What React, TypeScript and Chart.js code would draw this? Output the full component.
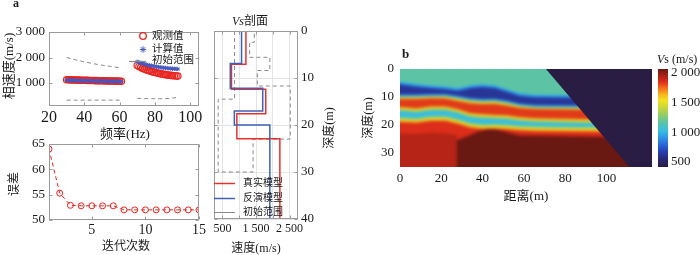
import React, { useEffect, useRef } from "react";
import { Chart, registerables } from "chart.js";

Chart.register(...registerables);

const FONT = "'Liberation Serif', 'Noto Sans CJK SC', serif";
const TXT = "#1a1a1a";

// ---------------- Panel a (top): dispersion curves ----------------
const dispFreq1 = [30, 31, 32, 33, 34, 35, 36, 37, 38, 39, 40, 41, 42, 43, 44, 45, 46, 47, 48, 49, 50, 51, 52, 53, 54, 55, 56, 57, 58, 59, 60, 61];
const dispObs1 = [1130, 1127, 1125, 1122, 1120, 1118, 1116, 1113, 1111, 1109, 1107, 1105, 1103, 1101, 1099, 1097, 1095, 1093, 1092, 1090, 1088, 1086, 1085, 1083, 1081, 1080, 1078, 1076, 1075, 1073, 1072, 1070];
const dispCalc1 = [1112, 1110, 1108, 1106, 1104, 1102, 1100, 1098, 1096, 1094, 1092, 1090, 1089, 1087, 1085, 1084, 1082, 1080, 1079, 1077, 1076, 1074, 1073, 1071, 1070, 1068, 1067, 1066, 1064, 1063, 1062, 1060];
const dispFreq2 = [70, 71, 72, 73, 74, 75, 76, 77, 78, 79, 80, 81, 82, 83, 84, 85, 86, 87, 88, 89, 90, 91, 92, 93];
const dispObs2 = [1690, 1650, 1615, 1582, 1552, 1525, 1500, 1477, 1455, 1435, 1416, 1399, 1383, 1368, 1354, 1341, 1329, 1318, 1308, 1299, 1291, 1284, 1278, 1272];
const dispCalc2 = [1835, 1810, 1787, 1765, 1745, 1726, 1709, 1693, 1678, 1664, 1651, 1639, 1628, 1617, 1607, 1598, 1590, 1582, 1575, 1568, 1562, 1557, 1552, 1548];
const rangeFreq1 = [30, 35, 40, 45, 50, 55, 60];
const rangeUpper1 = [2000, 1910, 1830, 1760, 1700, 1650, 1600];
const rangeLower1 = [330, 330, 330, 330, 330, 330, 330];
const rangeFreq2 = [70, 75, 80, 85, 88, 92];
const rangeLower2 = [400, 390, 385, 385, 395, 430];
const dispXTicks = [20, 40, 60, 80, 100];
const dispYTicks = [1000, 2000, 3000];

// ---------------- Panel a (bottom): misfit vs iteration ----------------
const iterations = [1, 2, 3, 4, 5, 6, 7, 8, 9, 10, 11, 12, 13, 14, 15];
const misfit = [64.0, 55.3, 52.9, 52.8, 52.8, 52.8, 52.8, 52.0, 52.0, 52.0, 52.0, 52.0, 52.0, 52.0, 52.0];
const iterTicks = [5, 10, 15];
const misfitTicks = [50, 55, 60, 65];

// ---------------- Panel a (right): Vs profile ----------------
const trueVs = [1200, 770, 1790, 930, 2210];
const trueBottoms = [7.1, 12.4, 17.6, 22.9, 40];
const invVs = [1070, 735, 1700, 855, 1912];
const invBottoms = [6.9, 12.2, 17.0, 20.0, 40];
const initRangeVs = [862, 862, 374, 374, 1412, 1412, 2520, 2520, 1540, 1540, 1912, 1912, 1310, 1310, 1450, 1450];
const initRangeDepth = [0, 14.5, 14.5, 30, 30, 23, 23, 11.7, 11.7, 8.4, 8.4, 5.6, 5.6, 2.4, 2.4, 0];
const vsTicks = [500, 1000, 1500, 2000, 2500];
const vsLabelled = [500, 1500, 2500];
const depthTicks = [0, 10, 20, 30, 40];

// ---------------- Panel b: Vs section ----------------
const heatX = [0, 8, 15, 22, 28, 34, 40, 46, 52, 58, 65, 75, 90, 105, 122];
const blueTopDepth = [5.5, 6.3, 6.8, 7.2, 7.8, 6.8, 6.4, 6.8, 8.2, 9.6, 10.1, 10.2, 10.3, 10.4, 10.5];
const blueBaseDepth = [9.0, 9.0, 8.8, 8.8, 9.5, 10.3, 10.6, 10.5, 11.2, 12.2, 12.7, 12.8, 12.9, 13.0, 13.0];
const redTopDepth = [10.8, 10.8, 10.5, 10.6, 11.5, 12.3, 12.6, 12.5, 13.2, 14.0, 14.4, 14.5, 14.6, 14.7, 14.7];
const redBaseDepth = [14.0, 14.5, 13.8, 13.8, 14.8, 16.2, 16.6, 16.8, 17.0, 17.6, 18.0, 18.2, 18.4, 18.5, 18.5];
const cyanBaseDepth = [18.0, 18.3, 17.6, 17.6, 18.6, 20.0, 20.5, 20.4, 20.6, 21.0, 21.2, 21.3, 21.4, 21.5, 21.5];
const leftBaseX = [0, 8, 15, 22, 27.5];
const leftBaseDepth = [23.0, 23.2, 22.8, 23.0, 23.5];
const rightBaseX = [27.5, 30, 34, 38, 42, 46, 50, 54, 58, 65, 75, 90, 105, 122];
const rightBaseDepth = [25.5, 25.0, 23.8, 22.5, 21.8, 21.8, 22.4, 23.3, 23.9, 24.0, 24.1, 24.3, 24.5, 24.5];
const maskX = [69.5, 112.2];
const maskDepth = [-1, 36];
// layer velocities (m/s)
const vsTopLayer = 1170;
const vsMasked = 430;
const vsLeftBase = 1930;
const vsRightBase = 2065;
// transitions across each interface: [depth offset (m), Vs below]
const blueTopSteps = [[-1.0, 1000], [-0.5, 850], [0, 690], [0.4, 620]];
const blueBaseSteps = [[0, 800], [0.4, 1000], [0.8, 1250], [1.2, 1480]];
const redTopSteps = [[-0.4, 1660], [0, 1830]];
const redBaseSteps = [[-0.5, 1650], [0, 1460], [0.5, 1250], [1.0, 1030]];
const cyanBaseSteps = [[-0.8, 1260], [-0.2, 1500], [0.4, 1680], [1.0, 1850]];
const heatXTicks = [0, 20, 40, 60, 80, 100];
const heatYTicks = [0, 10, 20, 30];

// colour scale
const cmapVs = [420, 560, 680, 800, 920, 1030, 1150, 1280, 1420, 1540, 1640, 1750, 1850, 1960, 2065];
const cmapHex = ["#2a1c40", "#292a7a", "#2740b0", "#2a6ad8", "#2f9ae6", "#38bde0", "#55c2b0", "#8ccb6a", "#c8d83a", "#f2e21e", "#f8b41c", "#f26a1c", "#dc2e1a", "#a82016", "#6a1812"];
const cbarTicks = [500, 1000, 1500, 2000];
const cbarMin = 417;
const cbarMax = 2067;

// ---------------- helpers ----------------
const fmt = (v: number) => (v >= 1000 ? `${Math.floor(v / 1000)} ${String(v % 1000).padStart(3, "0")}` : String(v));
const pts = (xs: number[], ys: number[]) => xs.map((x, i) => ({ x, y: ys[i] }));
const stepProfile = (vs: number[], bottoms: number[]) => {
  const out: { x: number; y: number }[] = [];
  let top = 0;
  vs.forEach((v, i) => {
    out.push({ x: v, y: top }, { x: v, y: bottoms[i] });
    top = bottoms[i];
  });
  return out;
};
const hexRgb = (h: string) => [parseInt(h.slice(1, 3), 16), parseInt(h.slice(3, 5), 16), parseInt(h.slice(5, 7), 16)];
const vsColor = (v: number) => {
  if (v <= cmapVs[0]) return cmapHex[0];
  if (v >= cmapVs[cmapVs.length - 1]) return cmapHex[cmapHex.length - 1];
  let i = 0;
  while (v > cmapVs[i + 1]) i++;
  const t = (v - cmapVs[i]) / (cmapVs[i + 1] - cmapVs[i]);
  const a = hexRgb(cmapHex[i]);
  const b = hexRgb(cmapHex[i + 1]);
  const c = a.map((q, k) => Math.round(q + (b[k] - q) * t));
  return `rgb(${c[0]},${c[1]},${c[2]})`;
};

function axis(o: {
  min: number; max: number; ticks: number[]; size: number; fontSize: number; pad?: number;
  pos?: string; reverse?: boolean; grid?: boolean; label?: (v: number) => string; display?: boolean;
}) {
  return {
    type: "linear",
    position: o.pos,
    min: o.min,
    max: o.max,
    reverse: !!o.reverse,
    display: o.display ?? true,
    afterBuildTicks: (s: any) => { s.ticks = o.ticks.map((value) => ({ value })); },
    afterFit: (s: any) => { if (s.isHorizontal()) s.height = o.size; else s.width = o.size; },
    grid: o.grid ? { display: true, color: "#e4e4e4", drawTicks: false, lineWidth: 1 } : { display: false, drawTicks: false },
    border: { display: false },
    ticks: {
      color: TXT, font: { family: FONT, size: o.fontSize }, padding: o.pad ?? 3,
      autoSkip: false, maxRotation: 0, minRotation: 0,
      callback: (v: any) => (o.label ? o.label(+v) : fmt(+v)),
    },
  };
}

type Txt = { s: string; x: number; y: number; size: number; align?: CanvasTextAlign; rot?: boolean; bold?: boolean; italic?: boolean };
function drawTexts(ctx: CanvasRenderingContext2D, items: Txt[]) {
  for (const t of items) {
    ctx.save();
    ctx.fillStyle = TXT;
    ctx.font = `${t.italic ? "italic " : ""}${t.bold ? "bold " : ""}${t.size}px ${FONT}`;
    ctx.textAlign = t.align ?? "center";
    ctx.textBaseline = "middle";
    ctx.translate(t.x, t.y);
    if (t.rot) ctx.rotate(-Math.PI / 2);
    ctx.fillText(t.s, 0, 0);
    ctx.restore();
  }
}
function drawFrame(chart: any, color: string, tick = 3, sides = { x: true, y: true }) {
  const { ctx, chartArea: a, scales } = chart;
  ctx.save();
  ctx.strokeStyle = color;
  ctx.lineWidth = 1;
  const l = Math.round(a.left) + 0.5, t = Math.round(a.top) + 0.5, r = Math.round(a.right) - 0.5, b = Math.round(a.bottom) - 0.5;
  ctx.strokeRect(l, t, r - l, b - t);
  ctx.beginPath();
  for (const id of Object.keys(scales)) {
    const s = scales[id];
    if (!s.options.display) continue;
    for (const tk of s.ticks) {
      const p = Math.round(s.getPixelForValue(tk.value)) + 0.5;
      if (s.isHorizontal() && sides.x) {
        ctx.moveTo(p, b); ctx.lineTo(p, b - tick); ctx.moveTo(p, t); ctx.lineTo(p, t + tick);
      } else if (!s.isHorizontal() && sides.y) {
        ctx.moveTo(l, p); ctx.lineTo(l + tick, p); ctx.moveTo(r, p); ctx.lineTo(r - tick, p);
      }
    }
  }
  ctx.stroke();
  ctx.restore();
}
function drawStar(ctx: CanvasRenderingContext2D, x: number, y: number, r: number) {
  ctx.beginPath();
  for (let k = 0; k < 4; k++) {
    const ang = (k * Math.PI) / 4;
    ctx.moveTo(x - r * Math.cos(ang), y - r * Math.sin(ang));
    ctx.lineTo(x + r * Math.cos(ang), y + r * Math.sin(ang));
  }
  ctx.stroke();
}

const baseOpts = (padding: any, scales: any, plugins: any = {}) => ({
  responsive: false,
  animation: false as const,
  events: [] as any[],
  layout: { padding },
  plugins: { legend: { display: false }, tooltip: { enabled: false }, ...plugins },
  scales,
});

const RED = "#e8231e";
const BLUE = "#4557c0";
const GRAY = "#8a8a8a";
const FRAME = "#9a9a9a";

// ---------------- chart builders ----------------
function makeDispersion(c: HTMLCanvasElement) {
  return new Chart(c, {
    type: "scatter",
    data: {
      datasets: [
        { label: "计算值", data: pts(dispFreq1, dispCalc1), pointStyle: "star", pointRadius: 2.2, pointBorderColor: BLUE, pointBorderWidth: 1, showLine: false },
        { label: "计算值", data: pts(dispFreq2, dispCalc2), pointStyle: "star", pointRadius: 2.2, pointBorderColor: BLUE, pointBorderWidth: 1, showLine: false },
        { label: "观测值", data: pts(dispFreq1, dispObs1), pointStyle: "circle", pointRadius: 3.2, pointBorderColor: RED, pointBackgroundColor: "rgba(255,255,255,0)", pointBorderWidth: 1.2, showLine: false },
        { label: "观测值", data: pts(dispFreq2, dispObs2), pointStyle: "circle", pointRadius: 3.2, pointBorderColor: RED, pointBackgroundColor: "rgba(255,255,255,0)", pointBorderWidth: 1.2, showLine: false },
        { label: "初始范围", data: pts(rangeFreq1, rangeUpper1), showLine: true, borderColor: GRAY, borderWidth: 1, borderDash: [4, 3], pointRadius: 0 },
        { label: "初始范围", data: pts(rangeFreq1, rangeLower1), showLine: true, borderColor: GRAY, borderWidth: 1, borderDash: [4, 3], pointRadius: 0 },
        { label: "初始范围", data: pts(rangeFreq2, rangeLower2), showLine: true, borderColor: GRAY, borderWidth: 1, borderDash: [4, 3], pointRadius: 0 },
      ] as any,
    },
    options: baseOpts({ left: 0, top: 32, right: 501, bottom: 119 }, {
      x: axis({ min: 20, max: 105, ticks: dispXTicks, size: 30, fontSize: 16, pad: 2 }),
      y: axis({ min: 100, max: 3000, ticks: dispYTicks, size: 49, fontSize: 13, pad: 4 }),
    }) as any,
    plugins: [{
      id: "decor",
      afterDraw(chart: any) {
        const ctx = chart.ctx as CanvasRenderingContext2D;
        drawFrame(chart, FRAME);
        ctx.save();
        ctx.strokeStyle = RED; ctx.lineWidth = 1.3;
        ctx.beginPath(); ctx.arc(143, 36, 3.3, 0, Math.PI * 2); ctx.stroke();
        ctx.strokeStyle = BLUE; ctx.lineWidth = 1;
        drawStar(ctx, 143, 49.5, 3.2);
        ctx.strokeStyle = GRAY; ctx.lineWidth = 1.2;
        ctx.beginPath(); ctx.moveTo(129, 61.5); ctx.lineTo(146, 61.5); ctx.stroke();
        ctx.restore();
        drawTexts(ctx, [
          { s: "观测值", x: 152, y: 36, size: 10.5, align: "left" },
          { s: "计算值", x: 152, y: 49.5, size: 10.5, align: "left" },
          { s: "初始范围", x: 152, y: 60, size: 10.5, align: "left" },
          { s: "相速度(m/s)", x: 10, y: 66, size: 13, rot: true },
          { s: "频率(Hz)", x: 125, y: 135, size: 13 },
          { s: "a", x: 13, y: 4, size: 12, bold: true, align: "left" },
        ]);
      },
    }],
  });
}

function makeMisfit(c: HTMLCanvasElement) {
  return new Chart(c, {
    type: "scatter",
    data: {
      datasets: [{
        data: pts(iterations, misfit), showLine: true, borderColor: RED, borderWidth: 1, borderDash: [4, 3],
        pointStyle: "circle", pointRadius: 3, pointBorderColor: RED, pointBackgroundColor: "rgba(255,255,255,0)", pointBorderWidth: 1,
      }] as any,
    },
    options: baseOpts({ left: 19, top: 144, right: 501, bottom: 13 }, {
      x: axis({ min: 1, max: 15, ticks: iterTicks, size: 22, fontSize: 14, pad: 2 }),
      y: axis({ min: 50, max: 65, ticks: misfitTicks, size: 30, fontSize: 13, pad: 4 }),
    }) as any,
    plugins: [{
      id: "decor",
      afterDraw(chart: any) {
        drawFrame(chart, FRAME);
        drawTexts(chart.ctx, [
          { s: "误差", x: 15, y: 184, size: 12, rot: true },
          { s: "迭代次数", x: 126, y: 247, size: 12 },
        ]);
      },
    }],
  });
}

function makeProfile(c: HTMLCanvasElement) {
  return new Chart(c, {
    type: "scatter",
    data: {
      datasets: [
        { label: "反演模型", data: stepProfile(invVs, invBottoms), showLine: true, borderColor: "#3c62b8", borderWidth: 1.5, pointRadius: 0 },
        { label: "真实模型", data: stepProfile(trueVs, trueBottoms), showLine: true, borderColor: "#e8302c", borderWidth: 1.5, pointRadius: 0 },
        { label: "初始范围", data: pts(initRangeVs, initRangeDepth), showLine: true, borderColor: GRAY, borderWidth: 1, borderDash: [4, 3], pointRadius: 0 },
      ] as any,
    },
    options: baseOpts({ left: 214, top: 31, right: 377, bottom: 18 }, {
      x: axis({ min: 250, max: 2750, ticks: vsTicks, size: 18, fontSize: 12, pad: 3, grid: true, label: (v) => (vsLabelled.includes(v) ? fmt(v) : "") }),
      y: axis({ min: 0, max: 40, ticks: depthTicks, size: 25, fontSize: 13, pad: 3, pos: "right", reverse: true, grid: true }),
    }) as any,
    plugins: [{
      id: "decor",
      afterDraw(chart: any) {
        const ctx = chart.ctx as CanvasRenderingContext2D;
        drawFrame(chart, FRAME);
        const rows: [string, string, number][] = [["#e8302c", "真实模型", 183], ["#3c62b8", "反演模型", 198], [GRAY, "初始范围", 212]];
        ctx.save();
        for (const [col, , y] of rows) {
          ctx.strokeStyle = col; ctx.lineWidth = col === GRAY ? 1 : 1.5;
          ctx.beginPath(); ctx.moveTo(214, y + 0.5); ctx.lineTo(235, y + 0.5); ctx.stroke();
        }
        // title: italic "Vs" + "剖面"
        ctx.fillStyle = TXT; ctx.textBaseline = "middle";
        ctx.font = `italic 12px ${FONT}`;
        const w1 = ctx.measureText("Vs").width;
        ctx.font = `12px ${FONT}`;
        const w2 = ctx.measureText("剖面").width;
        const x0 = 250 - (w1 + w2) / 2;
        ctx.font = `italic 12px ${FONT}`; ctx.textAlign = "left"; ctx.fillText("Vs", x0, 22);
        ctx.font = `12px ${FONT}`; ctx.fillText("剖面", x0 + w1, 22);
        ctx.restore();
        drawTexts(ctx, [
          ...rows.map(([, s, y]) => ({ s, x: 243, y, size: 10, align: "left" as CanvasTextAlign })),
          { s: "深度(m)", x: 330, y: 128, size: 12, rot: true },
          { s: "速度(m/s)", x: 256, y: 249, size: 12 },
        ]);
      },
    }],
  });
}

function makeSection(c: HTMLCanvasElement) {
  return new Chart(c, {
    type: "scatter",
    data: { datasets: [{ data: [] }] as any },
    options: baseOpts({ left: 370, top: 69, right: 48, bottom: 68 }, {
      x: axis({ min: 0, max: 122, ticks: heatXTicks, size: 20, fontSize: 13, pad: 4 }),
      y: axis({ min: 0, max: 35, ticks: heatYTicks, size: 30, fontSize: 13, pad: 6, reverse: true }),
    }) as any,
    plugins: [{
      id: "section",
      beforeDatasetsDraw(chart: any) {
        const { ctx, chartArea: a, scales } = chart;
        const sx = scales.x, sy = scales.y;
        const X = (v: number) => sx.getPixelForValue(v);
        const Y = (v: number) => sy.getPixelForValue(v);
        const off = document.createElement("canvas");
        off.width = chart.width; off.height = chart.height;
        const o = off.getContext("2d")!;
        o.fillStyle = vsColor(vsTopLayer);
        o.fillRect(a.left - 20, a.top - 20, a.width + 40, a.height + 40);
        const bottom = a.bottom + 20;
        const fillBelow = (xs: number[], ds: number[], dOff: number, vs: number, extL: boolean, extR: boolean) => {
          const p = xs.map((x, i) => [X(x), Y(ds[i] + dOff)]);
          if (extL) p.unshift([p[0][0] - 20, p[0][1]]);
          if (extR) p.push([p[p.length - 1][0] + 20, p[p.length - 1][1]]);
          o.fillStyle = vsColor(vs);
          o.beginPath();
          o.moveTo(p[0][0], p[0][1]);
          for (const q of p.slice(1)) o.lineTo(q[0], q[1]);
          o.lineTo(p[p.length - 1][0], bottom);
          o.lineTo(p[0][0], bottom);
          o.closePath();
          o.fill();
        };
        const iface = (ds: number[], steps: number[][]) => steps.forEach(([d, v]) => fillBelow(heatX, ds, d, v, true, true));
        iface(blueTopDepth, blueTopSteps);
        iface(blueBaseDepth, blueBaseSteps);
        iface(redTopDepth, redTopSteps);
        iface(redBaseDepth, redBaseSteps);
        iface(cyanBaseDepth, cyanBaseSteps);
        fillBelow(leftBaseX, leftBaseDepth, 0, vsLeftBase, true, false);
        fillBelow(rightBaseX, rightBaseDepth, -0.5, 1960, false, true);
        fillBelow(rightBaseX, rightBaseDepth, 0, vsRightBase, false, true);
        ctx.save();
        ctx.beginPath(); ctx.rect(a.left, a.top, a.width, a.height); ctx.clip();
        ctx.filter = "blur(1.4px)";
        ctx.drawImage(off, 0, 0);
        ctx.filter = "none";
        ctx.fillStyle = vsColor(vsMasked);
        ctx.beginPath();
        ctx.moveTo(X(maskX[0]), Y(maskDepth[0]));
        ctx.lineTo(X(maskX[1]), Y(maskDepth[1]));
        ctx.lineTo(a.right + 5, Y(maskDepth[1]));
        ctx.lineTo(a.right + 5, Y(maskDepth[0]));
        ctx.closePath();
        ctx.fill();
        ctx.restore();
      },
      afterDraw(chart: any) {
        drawTexts(chart.ctx, [
          { s: "b", x: 402, y: 55, size: 13, bold: true, align: "left" },
          { s: "深度(m)", x: 369, y: 118, size: 12, rot: true },
          { s: "距离(m)", x: 526, y: 197, size: 13 },
        ]);
      },
    }],
  });
}

function makeColorbar(c: HTMLCanvasElement) {
  return new Chart(c, {
    type: "scatter",
    data: { datasets: [{ data: [] }] as any },
    options: baseOpts({ left: 658, top: 69, right: 0, bottom: 88 }, {
      x: { type: "linear", display: false, min: 0, max: 1 },
      y: axis({ min: cbarMin, max: cbarMax, ticks: cbarTicks, size: 32, fontSize: 13, pad: 3, pos: "right" }),
    }) as any,
    plugins: [{
      id: "cbar",
      beforeDatasetsDraw(chart: any) {
        const { ctx, chartArea: a, scales } = chart;
        const sy = scales.y;
        const y0 = sy.getPixelForValue(cbarMin), y1 = sy.getPixelForValue(cbarMax);
        const g = ctx.createLinearGradient(0, y0, 0, y1);
        cmapVs.forEach((v: number, i: number) => {
          const t = (v - cbarMin) / (cbarMax - cbarMin);
          g.addColorStop(Math.min(1, Math.max(0, t)), cmapHex[i]);
        });
        ctx.save();
        ctx.fillStyle = g;
        ctx.fillRect(a.left, a.top, a.width, a.height);
        ctx.restore();
      },
      afterDraw(chart: any) {
        const ctx = chart.ctx as CanvasRenderingContext2D;
        ctx.save();
        ctx.fillStyle = TXT; ctx.textBaseline = "middle"; ctx.textAlign = "left";
        ctx.font = `italic 12px ${FONT}`;
        ctx.fillText("V", 657, 60);
        const w = ctx.measureText("V").width;
        ctx.font = `12px ${FONT}`;
        ctx.fillText("s (m/s)", 657 + w, 60);
        ctx.restore();
      },
    }],
  });
}

function ChartCanvas({ make }: { make: (c: HTMLCanvasElement) => Chart }) {
  const ref = useRef<HTMLCanvasElement>(null);
  useEffect(() => {
    const ch = make(ref.current!);
    return () => ch.destroy();
  }, [make]);
  return <canvas ref={ref} width={700} height={255} style={{ position: "absolute", left: 0, top: 0, width: 700, height: 255 }} />;
}

export default function App() {
  return (
    <div style={{ position: "fixed", left: 0, top: 0, width: 700, height: 255, background: "#fff", overflow: "hidden" }}>
      <ChartCanvas make={makeSection} />
      <ChartCanvas make={makeColorbar} />
      <ChartCanvas make={makeProfile} />
      <ChartCanvas make={makeMisfit} />
      <ChartCanvas make={makeDispersion} />
    </div>
  );
}
